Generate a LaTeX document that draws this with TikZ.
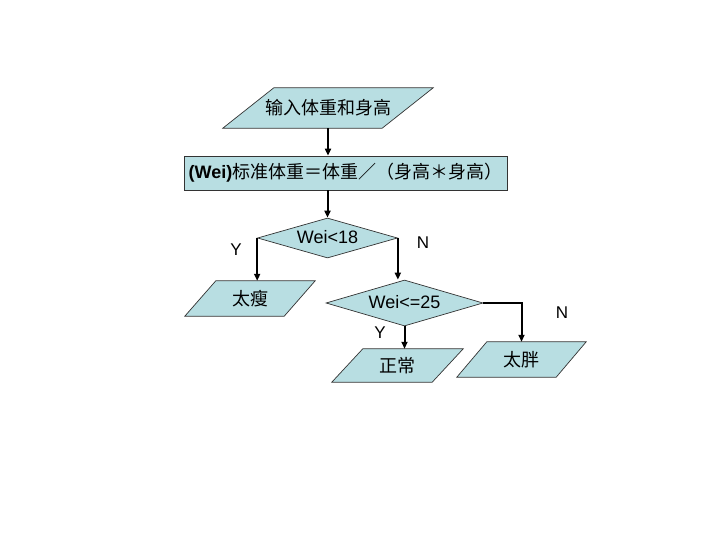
\documentclass[tikz,border=0pt]{standalone}
\usepackage{fontspec}
\setmainfont{Liberation Sans}
\newfontfamily\cjk{Noto Sans CJK SC}
\usetikzlibrary{shapes.geometric,arrows.meta,backgrounds}
\definecolor{boxfill}{RGB}{184,222,226}
\tikzset{
  txt/.style={inner sep=0pt,font=\fontsize{18}{18}\selectfont},
  rbox/.style={txt,draw=black!80,line width=0.7pt,fill=boxfill},
  dbox/.style={diamond,draw=black!80,line width=0.7pt,fill=boxfill,inner sep=0pt,aspect=3.5},
  conn/.style={line width=2pt,-{Triangle[length=7pt,width=6pt]}},
  lbl/.style={inner sep=0pt,font=\fontsize{17}{17}\selectfont}
}
\newcommand\parashape[2]{%
  \begin{pgfonlayer}{background}
  \draw[draw=black!80,line width=0.7pt,fill=boxfill]
    ([xshift=#2]#1.north west) -- (#1.north east) -- ([xshift=-#2]#1.south east) -- (#1.south west) -- cycle;
  \end{pgfonlayer}}
\begin{document}
\begin{tikzpicture}[x=1pt,y=-1pt]
\useasboundingbox (0,0) rectangle (720,540);
% input
\node[txt,minimum width=210pt,minimum height=40pt] (in) at (328,108) {\cjk 输入体重和身高};
\parashape{in}{51pt}
% calc
\node[rbox,minimum width=323pt,minimum height=34pt] (calc) at (345.5,173) {\textbf{(Wei)}\cjk 标准体重＝体重／（身高＊身高）};
% decision 1
\node[dbox,minimum width=140pt,minimum height=40pt] (d1) at (327.5,238) {};
\node[txt] (t1) at (327.5,237) {Wei<18};
% thin
\node[txt,minimum width=130pt,minimum height=35pt] (thin) at (250,298.5) {\cjk 太瘦};
\parashape{thin}{31pt}
% decision 2
\node[dbox,minimum width=157pt,minimum height=46pt] (d2) at (404.5,303) {};
\node[txt] (t2) at (404.5,302) {Wei<=25};
% normal
\node[txt,minimum width=131pt,minimum height=33pt] (normal) at (397.5,365.5) {\cjk 正常};
\parashape{normal}{31pt}
% fat
\node[txt,minimum width=129pt,minimum height=35pt] (fat) at (521.5,359.5) {\cjk 太胖};
\parashape{fat}{30pt}
% connectors
\draw[conn] (in.south) -- (in.south |- calc.north);
\draw[conn] (d1.north |- calc.south) -- (d1.north);
\draw[conn] (d1.west) -- (d1.west |- thin.north);
\draw[conn] (d1.east) -- (d1.east |- d2.north);
\draw[conn] (d2.south) -- (d2.south |- normal.north);
\draw[conn] (d2.east) -| (fat.north);
% labels
\node[lbl] (ly1) at (236,250) {Y};
\node[lbl] (ln1) at (423,243) {N};
\node[lbl] (ly2) at (380,333) {Y};
\node[lbl] (ln2) at (562,313) {N};
\end{tikzpicture}
\end{document}
